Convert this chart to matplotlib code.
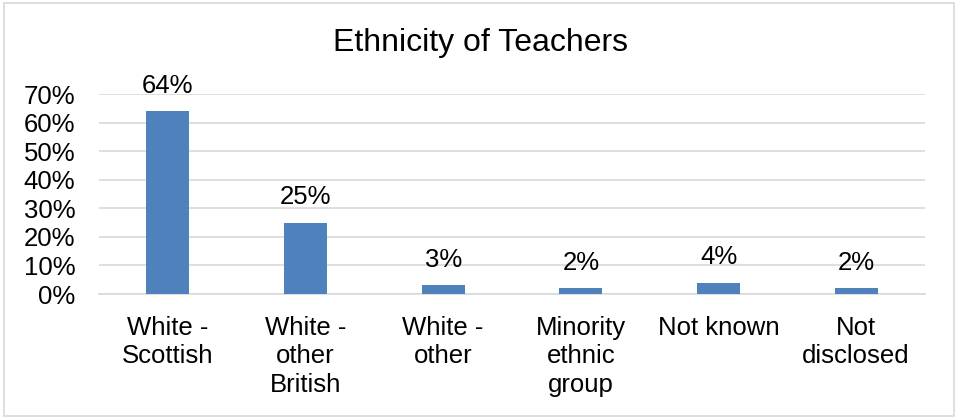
import matplotlib
matplotlib.use("Agg")
import matplotlib.pyplot as plt
from matplotlib.patches import Rectangle
from matplotlib.ticker import FuncFormatter

categories = ["White -\nScottish", "White -\nother\nBritish", "White -\nother",
              "Minority\nethnic\ngroup", "Not known", "Not\ndisclosed"]
values = [64, 25, 3, 2, 4, 2]
yticks = [0, 10, 20, 30, 40, 50, 60, 70]

plt.rcParams['font.family'] = ['Liberation Sans', 'DejaVu Sans']

W, H = 955, 418
fig = plt.figure(figsize=(W / 100, H / 100), dpi=100)
fig.patches.append(Rectangle((4 / W, 2 / H), 950 / W, 413 / H, transform=fig.transFigure,
                             fill=False, edgecolor='#D9D9D9', linewidth=1.2))

ax = fig.add_axes([99 / W, 1 - 294 / H, (925 - 99) / W, 200 / H])
x = range(len(values))
bars = ax.bar(x, values, width=0.31, color='#4F81BD', zorder=3)
ax.set_xlim(-0.5, len(values) - 0.5)
ax.set_ylim(0, 70)
ax.set_yticks(yticks)
ax.yaxis.set_major_formatter(FuncFormatter(lambda v, p: f"{int(v)}%"))
ax.grid(axis='y', color='#D9D9D9', linewidth=1.2, zorder=0)
for s in ['top', 'right', 'left']:
    ax.spines[s].set_visible(False)
ax.spines['bottom'].set_color('#D9D9D9')
ax.spines['bottom'].set_linewidth(1.2)
ax.tick_params(axis='y', length=0, labelsize=18.5, pad=17, colors='black')
ax.tick_params(axis='x', length=0, labelsize=18.5, pad=16, colors='black')
ax.set_xticks(list(x))
ax.set_xticklabels(categories, linespacing=1.22)
for b, v in zip(bars, values):
    ax.annotate(f"{v}%", (b.get_x() + b.get_width() / 2, v), xytext=(0, 9.5),
                textcoords='offset points', ha='center', va='bottom', fontsize=18.5)

fig.text(480 / W, 1 - 43 / H, "Ethnicity of Teachers", ha='center', va='center', fontsize=23)

fig.savefig("out.png", dpi=100)
